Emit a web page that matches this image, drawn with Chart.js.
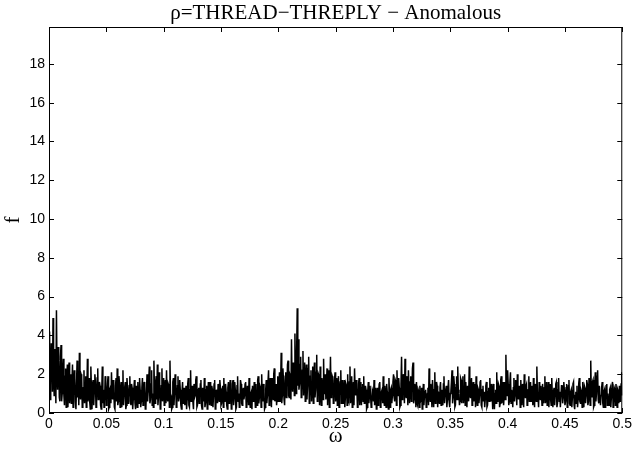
<!DOCTYPE html>
<html>
<head>
<meta charset="utf-8">
<script src="https://cdn.jsdelivr.net/npm/chart.js@4.4.0/dist/chart.umd.min.js"></script>
<style>
  html, body { margin: 0; padding: 0; background: #fff; }
  canvas { display: block; }
</style>
</head>
<body>
<canvas id="c" width="635" height="455"></canvas>
<script>
"use strict";

var TITLE = "\u03C1=THREAD\u2212THREPLY \u2212 Anomalous";
var X_LABEL = "\u03C9";
var Y_LABEL = "f";

var X_TICKS = [0, 0.05, 0.1, 0.15, 0.2, 0.25, 0.3, 0.35, 0.4, 0.45, 0.5];
var Y_TICKS = [0, 2, 4, 6, 8, 10, 12, 14, 16, 18];

// frequency grid spacing (omega = (i + 1) * step)
var OMEGA_STEP = 0.0005;

// periodogram values, 20 per 0.01 of omega
var F_VALUES = [
    4.2, 0.7, 1.4, 3.6, 3.0, 1.1, 4.9, 2.0, 0.9, 3.3, 2.4, 0.5, 5.3, 2.1, 1.2, 3.4, 2.7, 0.8, 0.6, 2.9,
    3.5, 0.6, 1.0, 2.1, 2.8, 0.9, 0.4, 1.9, 2.3, 0.3, 1.7, 2.5, 0.3, 1.4, 2.6, 0.5, 1.1, 2.0, 0.5, 1.6,
    2.5, 0.3, 0.9, 2.2, 1.8, 0.6, 0.2, 1.5, 2.7, 0.8, 1.4, 0.4, 3.1, 1.0, 0.7, 2.0, 1.9, 0.3, 0.4, 1.3,
    2.2, 0.5, 1.2, 1.9, 0.3, 1.0, 2.8, 0.6, 1.0, 1.8, 0.6, 0.2, 2.4, 1.3, 0.2, 1.5, 1.7, 0.4, 1.1, 2.0,
    1.6, 0.3, 0.5, 1.8, 2.3, 0.7, 0.9, 1.6, 1.4, 0.4, 0.2, 1.1, 2.4, 0.5, 1.2, 0.3, 0.6, 1.9, 1.5, 0.4,
    // 0.05 - 0.10
    0.8, 1.5, 1.9, 0.2, 0.3, 1.2, 1.3, 0.5, 2.1, 1.0, 0.7, 1.7, 1.1, 0.3, 0.2, 1.4, 1.8, 0.6, 2.3, 0.4,
    0.6, 1.9, 1.5, 0.3, 1.0, 1.6, 0.3, 0.9, 2.2, 0.4, 0.9, 1.3, 1.6, 0.2, 0.4, 1.8, 1.3, 0.5, 0.8, 1.4,
    1.9, 0.6, 0.4, 1.5, 1.3, 0.2, 0.7, 1.2, 1.7, 0.5, 0.2, 1.4, 1.0, 0.3, 1.6, 0.9, 0.5, 1.8, 1.2, 0.3,
    0.6, 1.3, 1.8, 0.4, 0.9, 1.6, 1.4, 0.2, 0.3, 1.1, 2.0, 0.6, 1.1, 1.7, 2.4, 0.5, 0.7, 1.5, 2.2, 0.4,
    1.0, 0.3, 2.7, 1.2, 0.5, 1.6, 1.9, 0.7, 2.5, 0.4, 0.8, 2.1, 1.6, 0.2, 0.3, 1.4, 2.3, 0.6, 1.2, 1.8,
    // 0.10 - 0.15
    0.4, 1.3, 1.7, 0.5, 2.2, 0.9, 0.6, 1.5, 1.4, 0.3, 2.7, 1.0, 0.9, 0.2, 0.3, 1.6, 1.8, 0.4, 1.1, 2.0,
    1.5, 0.3, 0.5, 1.4, 1.9, 0.6, 0.8, 1.7, 1.2, 0.4, 0.2, 1.1, 1.6, 0.5, 1.0, 1.3, 0.4, 0.8, 1.4, 0.2,
    0.7, 1.5, 1.8, 0.4, 0.3, 1.2, 2.2, 0.6, 1.1, 1.4, 0.6, 0.2, 1.5, 0.8, 0.9, 1.7, 1.9, 0.3, 0.4, 1.2,
    1.3, 0.5, 0.8, 1.5, 1.7, 0.4, 0.2, 1.3, 1.1, 0.6, 1.8, 0.3, 0.5, 1.2, 1.4, 0.2, 0.7, 1.6, 1.0, 0.4,
    1.6, 0.6, 0.4, 1.4, 1.2, 0.3, 0.9, 1.5, 1.7, 0.2, 0.3, 1.2, 1.0, 0.5, 1.5, 0.8, 0.6, 1.7, 1.3, 0.4,
    // 0.15 - 0.20
    0.5, 1.2, 1.4, 0.3, 1.8, 0.6, 0.7, 1.5, 1.1, 0.4, 0.2, 1.3, 1.6, 0.5, 0.9, 1.7, 1.3, 0.2, 0.4, 1.5,
    1.7, 0.4, 0.8, 1.6, 1.2, 0.2, 0.3, 1.4, 1.9, 0.6, 1.0, 0.3, 0.6, 1.7, 1.5, 0.5, 0.4, 1.1, 1.3, 0.7,
    0.9, 1.5, 1.6, 0.3, 0.5, 1.4, 1.2, 0.4, 1.8, 0.7, 0.3, 1.0, 1.1, 0.2, 1.4, 0.6, 0.7, 1.6, 1.0, 0.3,
    1.5, 0.6, 0.4, 1.7, 1.9, 0.5, 0.8, 1.4, 1.3, 0.3, 2.0, 0.9, 0.6, 1.5, 1.1, 0.2, 0.3, 1.2, 1.7, 0.5,
    0.9, 1.6, 2.2, 0.4, 0.5, 1.8, 1.4, 0.3, 1.8, 1.1, 0.7, 2.0, 2.3, 0.6, 1.0, 1.5, 0.4, 0.8, 1.9, 0.6,
    // 0.20 - 0.25
    1.2, 2.1, 0.6, 1.4, 3.1, 0.5, 0.9, 2.3, 1.7, 0.7, 0.4, 1.9, 2.1, 0.8, 1.3, 2.5, 2.7, 0.9, 0.8, 2.0,
    1.9, 0.7, 3.8, 1.6, 1.1, 2.6, 2.4, 0.9, 4.1, 1.8, 1.0, 3.2, 5.4, 1.4, 3.8, 1.2, 1.5, 2.5, 2.9, 0.8,
    1.0, 2.2, 3.2, 0.9, 1.8, 2.6, 0.6, 1.5, 2.5, 0.7, 1.4, 2.3, 2.9, 0.5, 0.8, 1.9, 2.2, 0.6, 1.6, 2.4,
    0.5, 1.7, 2.6, 0.8, 1.2, 2.1, 3.0, 0.6, 0.9, 2.0, 1.9, 0.4, 2.4, 1.1, 0.4, 1.8, 1.5, 0.7, 2.8, 1.0,
    1.1, 2.0, 0.7, 1.5, 2.3, 0.4, 1.6, 2.2, 0.3, 1.3, 2.9, 0.8, 1.0, 1.9, 1.8, 0.5, 0.6, 1.7, 2.1, 0.6,
    // 0.25 - 0.30
    1.3, 1.8, 0.4, 1.2, 1.9, 0.3, 0.9, 1.6, 2.2, 0.5, 1.2, 1.7, 0.5, 1.0, 1.7, 0.3, 0.8, 1.5, 1.4, 0.4,
    2.0, 0.7, 0.6, 1.6, 2.4, 0.5, 1.1, 1.9, 0.3, 0.9, 1.6, 0.4, 2.3, 1.2, 0.9, 1.7, 1.3, 0.3, 0.5, 1.5,
    1.8, 0.4, 1.0, 1.6, 0.4, 1.3, 1.5, 0.6, 1.9, 0.5, 0.7, 1.4, 1.2, 0.2, 0.3, 1.1, 1.6, 0.5, 0.9, 1.4,
    1.4, 0.3, 0.5, 1.2, 1.1, 0.6, 1.7, 0.4, 0.8, 1.3, 0.2, 0.9, 1.3, 0.4, 1.0, 1.5, 1.6, 0.3, 0.6, 1.1,
    1.2, 0.5, 1.9, 0.7, 0.4, 1.4, 1.0, 0.3, 1.5, 1.1, 0.7, 0.2, 1.8, 0.9, 0.3, 1.2, 1.3, 0.5, 0.9, 1.6,
    // 0.30 - 0.35
    2.0, 0.8, 0.6, 1.7, 1.6, 0.4, 2.2, 1.1, 0.9, 1.8, 1.3, 0.3, 0.4, 1.5, 2.9, 0.7, 1.1, 2.0, 1.8, 0.5,
    2.8, 1.0, 0.8, 1.9, 1.5, 0.4, 2.2, 1.3, 0.5, 1.6, 1.9, 0.6, 1.0, 2.3, 2.6, 0.5, 0.7, 1.5, 1.3, 0.3,
    1.6, 0.5, 0.4, 1.2, 1.1, 0.3, 1.4, 0.6, 0.7, 1.3, 0.2, 0.8, 1.5, 0.4, 0.9, 1.1, 1.2, 0.3, 0.5, 1.0,
    1.3, 0.4, 2.3, 0.9, 0.6, 1.5, 1.0, 0.3, 1.7, 1.1, 0.3, 1.2, 2.1, 0.5, 0.8, 1.6, 1.4, 0.3, 1.1, 0.6,
    0.5, 1.3, 1.6, 0.4, 1.2, 0.7, 0.4, 1.5, 1.9, 0.5, 0.9, 1.2, 1.4, 0.3, 0.7, 1.3, 1.7, 0.6, 0.3, 1.0,
    // 0.35 - 0.40
    1.1, 1.6, 2.2, 0.5, 0.8, 1.9, 1.5, 0.3, 0.4, 1.3, 1.9, 0.7, 2.4, 1.2, 1.0, 0.4, 0.6, 1.8, 1.7, 0.5,
    1.3, 1.9, 0.5, 1.1, 2.0, 0.4, 1.6, 0.8, 0.3, 1.4, 1.2, 0.6, 2.4, 1.0, 0.8, 1.5, 1.8, 0.4, 1.0, 1.6,
    0.6, 1.2, 1.5, 0.3, 1.9, 0.8, 0.4, 1.3, 1.2, 0.5, 0.9, 1.6, 1.7, 0.4, 0.3, 1.2, 1.4, 0.6, 1.1, 0.3,
    0.7, 1.4, 1.6, 0.3, 0.4, 1.1, 1.3, 0.6, 1.8, 0.8, 0.6, 1.5, 1.0, 0.2, 1.5, 0.9, 0.2, 1.0, 1.2, 0.5,
    2.1, 0.6, 0.8, 1.5, 1.4, 0.3, 0.5, 1.7, 1.9, 0.5, 1.1, 1.6, 0.4, 0.9, 1.6, 0.7, 3.0, 1.2, 0.9, 2.2,
    // 0.40 - 0.45
    1.5, 0.4, 0.6, 1.6, 2.1, 0.5, 1.2, 0.9, 0.3, 1.3, 1.8, 0.6, 0.9, 1.7, 1.4, 0.4, 2.0, 1.1, 0.7, 1.4,
    1.1, 0.3, 1.7, 0.8, 0.4, 1.5, 1.3, 0.3, 2.0, 1.0, 0.8, 1.4, 1.5, 0.4, 0.5, 1.2, 1.9, 0.6, 1.0, 1.6,
    0.6, 1.2, 1.4, 0.4, 1.8, 0.9, 0.3, 1.5, 1.2, 0.6, 2.4, 1.0, 0.9, 0.3, 1.6, 0.8, 0.7, 1.4, 1.1, 0.4,
    1.5, 0.8, 0.5, 1.3, 1.9, 0.5, 1.0, 1.6, 0.4, 0.7, 1.6, 0.3, 1.2, 1.5, 0.7, 0.4, 1.8, 0.9, 0.3, 1.1,
    1.3, 0.4, 0.9, 1.5, 1.6, 0.3, 0.5, 1.2, 1.8, 0.6, 1.1, 0.3, 0.3, 1.4, 1.4, 0.5, 0.8, 1.6, 1.2, 0.4,
    // 0.45 - 0.50
    0.6, 1.3, 1.5, 0.3, 1.0, 1.4, 1.7, 0.5, 0.4, 1.1, 1.2, 0.3, 0.8, 1.5, 1.6, 0.4, 0.2, 0.9, 1.1, 0.5,
    1.4, 0.3, 0.7, 1.5, 1.8, 0.6, 0.5, 1.2, 1.1, 0.3, 1.6, 0.8, 0.3, 1.4, 1.3, 0.5, 0.9, 1.7, 1.5, 0.4,
    0.6, 1.8, 1.2, 0.4, 2.7, 1.0, 0.8, 1.6, 1.7, 0.3, 0.4, 1.5, 2.1, 0.6, 1.0, 1.9, 2.2, 0.7, 0.5, 1.4,
    1.4, 0.4, 0.9, 1.3, 1.6, 0.5, 0.3, 1.1, 1.2, 0.3, 0.7, 1.4, 1.5, 0.4, 1.0, 0.6, 0.4, 1.2, 1.3, 0.3,
    0.8, 1.4, 1.6, 0.3, 0.5, 1.3, 1.2, 0.4, 1.5, 0.7, 0.3, 1.2, 1.1, 0.5, 1.4, 0.6, 0.6, 1.5, 2.1, 0.9
];

var X_MAX = 0.5;
var Y_MAX = 19.9;

var points = F_VALUES.map(function(v, i) {
    return { x: (i + 1) * OMEGA_STEP, y: v };
});

var TICK_FONT = { family: "'Liberation Sans', Arial, sans-serif", size: 14 };
var SERIF = "'Liberation Serif', 'Times New Roman', serif";

// matlab-like box with inward ticks, plus title and axis labels
var matlabFrame = {
    id: "matlabFrame",
    afterDatasetsDraw: function(chart) {
        var ctx = chart.ctx;
        var a = chart.chartArea;
        var xs = chart.scales.x;
        var ys = chart.scales.y;
        var len = 5;
        ctx.save();
        ctx.strokeStyle = "#000";
        ctx.lineWidth = 1;
        ctx.strokeRect(a.left + 0.5, a.top + 0.5, a.right - a.left - 1, a.bottom - a.top - 1);
        ctx.beginPath();
        X_TICKS.forEach(function(t) {
            var px = Math.round(xs.getPixelForValue(t)) + 0.5;
            ctx.moveTo(px, a.bottom);
            ctx.lineTo(px, a.bottom - len);
            ctx.moveTo(px, a.top);
            ctx.lineTo(px, a.top + len);
        });
        Y_TICKS.forEach(function(t) {
            var py = Math.round(ys.getPixelForValue(t)) + 0.5;
            ctx.moveTo(a.left, py);
            ctx.lineTo(a.left + len, py);
            ctx.moveTo(a.right, py);
            ctx.lineTo(a.right - len, py);
        });
        ctx.stroke();

        ctx.fillStyle = "#000";
        ctx.textAlign = "center";
        ctx.textBaseline = "alphabetic";
        ctx.font = "21px " + SERIF;
        ctx.fillText(TITLE, (a.left + a.right) / 2, 19);
        ctx.fillText(X_LABEL, (a.left + a.right) / 2, 442);

        ctx.translate(19, (a.top + a.bottom) / 2);
        ctx.rotate(-Math.PI / 2);
        ctx.fillText(Y_LABEL, 0, 0);
        ctx.restore();
    }
};

new Chart(document.getElementById("c"), {
    type: "line",
    data: {
        datasets: [{
            data: points,
            borderColor: "#000",
            borderWidth: 1.5,
            pointRadius: 0,
            tension: 0,
            fill: false
        }]
    },
    options: {
        responsive: false,
        animation: false,
        devicePixelRatio: 1,
        layout: { padding: { top: 27, right: 9, left: 0, bottom: 0 } },
        plugins: {
            legend: { display: false },
            tooltip: { enabled: false },
            title: { display: false }
        },
        scales: {
            x: {
                type: "linear",
                min: 0,
                max: X_MAX,
                grid: { display: false, drawTicks: false },
                border: { display: false },
                afterBuildTicks: function(scale) {
                    scale.ticks = X_TICKS.map(function(v) { return { value: v }; });
                },
                afterFit: function(scale) { scale.height = 42; },
                ticks: {
                    color: "#000",
                    font: TICK_FONT,
                    padding: 3,
                    maxRotation: 0,
                    autoSkip: false,
                    callback: function(v) { return String(+v.toFixed(2)); }
                }
            },
            y: {
                min: 0,
                max: Y_MAX,
                grid: { display: false, drawTicks: false },
                border: { display: false },
                afterBuildTicks: function(scale) {
                    scale.ticks = Y_TICKS.map(function(v) { return { value: v }; });
                },
                afterFit: function(scale) { scale.width = 49; },
                ticks: {
                    color: "#000",
                    font: TICK_FONT,
                    padding: 4,
                    autoSkip: false,
                    callback: function(v) { return String(v); }
                }
            }
        }
    },
    plugins: [matlabFrame]
});
</script>
</body>
</html>
